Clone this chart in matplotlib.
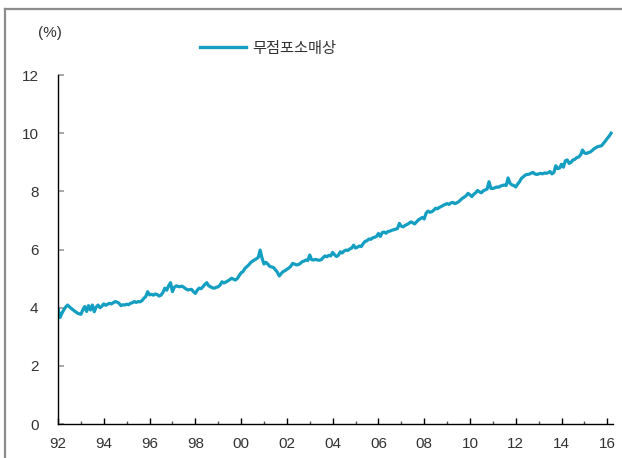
import matplotlib
matplotlib.use("Agg")
import matplotlib.pyplot as plt
from matplotlib.lines import Line2D
import numpy as np

series_name = "무점포소매상"
unit_label = "(%)"
start_year = 1992
y2_ticks = [0, 2, 4, 6, 8, 10, 12]
x_tick_years = [1992, 1994, 1996, 1998, 2000, 2002, 2004, 2006, 2008, 2010, 2012, 2014, 2016]
x_tick_labels = ["92", "94", "96", "98", "00", "02", "04", "06", "08", "10", "12", "14", "16"]

v1992 = [3.98, 3.66, 3.80, 3.92, 4.02, 4.09, 4.03, 3.97, 3.92, 3.87, 3.82, 3.79]
v1993 = [3.77, 3.92, 4.04, 3.87, 4.07, 3.92, 4.09, 3.86, 4.02, 4.09, 4.00, 4.05]
v1994 = [4.13, 4.08, 4.12, 4.15, 4.13, 4.17, 4.21, 4.19, 4.15, 4.07, 4.10, 4.09]
v1995 = [4.12, 4.10, 4.15, 4.17, 4.21, 4.18, 4.21, 4.20, 4.24, 4.32, 4.38, 4.55]
v1996 = [4.44, 4.46, 4.43, 4.47, 4.45, 4.40, 4.43, 4.52, 4.67, 4.60, 4.75, 4.86]
v1997 = [4.55, 4.70, 4.75, 4.73, 4.72, 4.74, 4.70, 4.65, 4.61, 4.62, 4.63, 4.55]
v1998 = [4.49, 4.60, 4.67, 4.65, 4.72, 4.80, 4.86, 4.75, 4.72, 4.68, 4.67, 4.70]
v1999 = [4.72, 4.78, 4.89, 4.85, 4.88, 4.92, 4.96, 5.01, 4.98, 4.95, 5.00, 5.10]
v2000 = [5.20, 5.24, 5.35, 5.41, 5.47, 5.55, 5.60, 5.64, 5.68, 5.73, 5.98, 5.70]
v2001 = [5.50, 5.56, 5.50, 5.42, 5.40, 5.38, 5.30, 5.22, 5.09, 5.17, 5.24, 5.27]
v2002 = [5.32, 5.36, 5.42, 5.52, 5.50, 5.47, 5.48, 5.52, 5.58, 5.60, 5.64, 5.62]
v2003 = [5.81, 5.65, 5.64, 5.66, 5.64, 5.63, 5.65, 5.72, 5.78, 5.75, 5.80, 5.78]
v2004 = [5.90, 5.82, 5.76, 5.80, 5.92, 5.88, 5.95, 5.98, 5.97, 6.02, 6.05, 6.15]
v2005 = [6.05, 6.08, 6.12, 6.10, 6.20, 6.28, 6.30, 6.36, 6.35, 6.40, 6.42, 6.45]
v2006 = [6.55, 6.45, 6.58, 6.60, 6.56, 6.62, 6.63, 6.66, 6.68, 6.70, 6.72, 6.90]
v2007 = [6.80, 6.78, 6.83, 6.86, 6.90, 6.95, 6.92, 6.88, 6.95, 7.02, 7.06, 7.10]
v2008 = [7.05, 7.25, 7.32, 7.28, 7.30, 7.35, 7.42, 7.40, 7.45, 7.48, 7.52, 7.55]
v2009 = [7.58, 7.55, 7.60, 7.62, 7.58, 7.60, 7.64, 7.70, 7.76, 7.80, 7.85, 7.93]
v2010 = [7.88, 7.82, 7.90, 7.95, 8.03, 7.98, 7.95, 8.02, 8.05, 8.08, 8.33, 8.10]
v2011 = [8.10, 8.12, 8.15, 8.14, 8.18, 8.20, 8.22, 8.20, 8.46, 8.28, 8.22, 8.20]
v2012 = [8.15, 8.25, 8.33, 8.45, 8.50, 8.56, 8.58, 8.59, 8.62, 8.65, 8.60, 8.58]
v2013 = [8.60, 8.62, 8.60, 8.63, 8.62, 8.64, 8.68, 8.60, 8.65, 8.88, 8.78, 8.80]
v2014 = [8.93, 8.83, 9.05, 9.08, 8.96, 9.00, 9.08, 9.10, 9.16, 9.18, 9.25, 9.42]
v2015 = [9.32, 9.30, 9.33, 9.35, 9.40, 9.46, 9.50, 9.54, 9.55, 9.57, 9.65, 9.73]
v2016 = [9.82, 9.90, 10.00]

values = (v1992 + v1993 + v1994 + v1995 + v1996 + v1997 + v1998 + v1999 + v2000 +
          v2001 + v2002 + v2003 + v2004 + v2005 + v2006 + v2007 + v2008 + v2009 +
          v2010 + v2011 + v2012 + v2013 + v2014 + v2015 + v2016)
x = start_year + np.arange(len(values)) / 12.0

line_color = "#149fc2"
text_color = "#333333"
num_font = ["Liberation Sans", "DejaVu Sans"]
kr_font = ["Noto Sans CJK KR", "DejaVu Sans"]

W, H = 622, 458
fig = plt.figure(figsize=(W / 100, H / 100), dpi=100)
ax = fig.add_axes([58 / W, 1 - 424 / H, (613 - 58) / W, (424 - 75) / H])

ax.plot(x, values, color=line_color, lw=2.3, solid_joinstyle="round")

ax.set_xlim(1992, 2016.25)
ax.set_ylim(0, 12)
for s in ["top", "right"]:
    ax.spines[s].set_visible(False)
for s in ["left", "bottom"]:
    ax.spines[s].set_color("black")
    ax.spines[s].set_linewidth(1.0)

ax.set_yticks(y2_ticks)
ax.set_yticklabels([str(v) for v in y2_ticks], fontfamily=num_font, fontsize=11, color=text_color)
ax.tick_params(axis="y", direction="in", length=4, width=1.2, color="#999999", pad=14)

ax.set_xticks(x_tick_years)
ax.set_xticklabels(x_tick_labels, fontfamily=num_font, fontsize=11, color=text_color)
ax.set_xticks(list(range(1993, 2016, 2)), minor=True)
ax.tick_params(axis="x", which="major", direction="in", length=4, width=1, color="black", pad=9)
ax.tick_params(axis="x", which="minor", direction="in", length=2, width=1, color="#555555")

fig.text(38 / W, 1 - 33 / H, unit_label, fontfamily=num_font, fontsize=11, color=text_color,
         ha="left", va="center")

# legend
leg_handle = Line2D([], [], color=line_color, lw=2.4)
leg = fig.legend([leg_handle], [series_name], loc="center", bbox_to_anchor=(268 / W, 1 - 48 / H),
                 frameon=False, prop={"family": kr_font, "size": 11}, handlelength=3.0,
                 handletextpad=0.4, borderpad=0)
for t in leg.get_texts():
    t.set_color(text_color)

# figure frame (top and left edges visible)
fig.add_artist(Line2D([5 / W, 1.0], [1 - 9 / H, 1 - 9 / H], transform=fig.transFigure,
                      color="#8c8c8c", lw=1.6))
fig.add_artist(Line2D([5 / W, 5 / W], [0, 1 - 9 / H], transform=fig.transFigure,
                      color="#8c8c8c", lw=1.6))

fig.savefig("out.png", dpi=100)
